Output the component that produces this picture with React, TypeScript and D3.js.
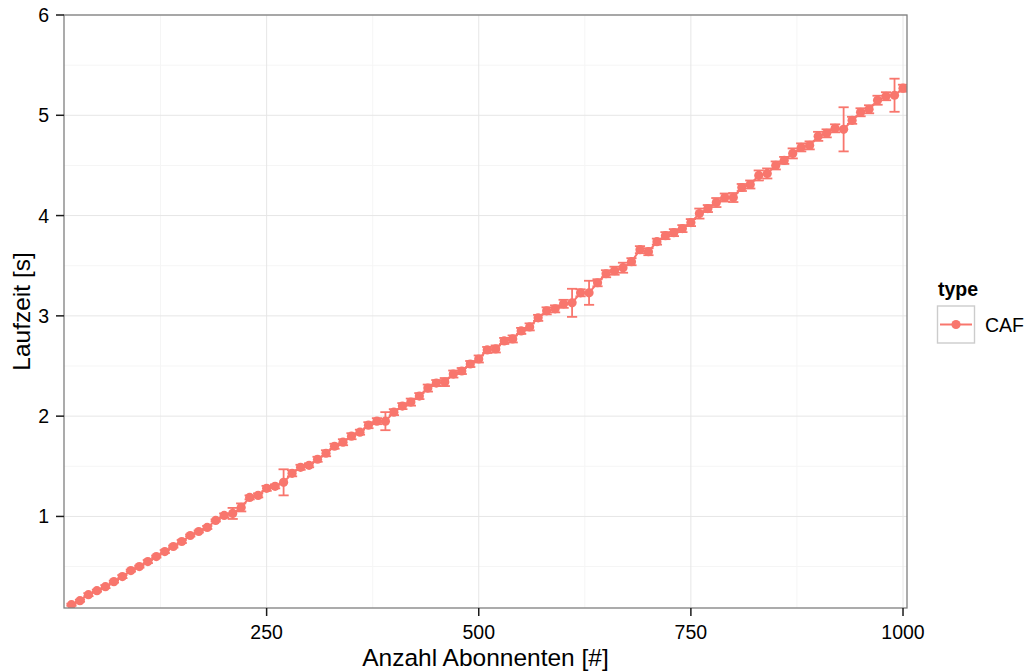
import React from "react";
import * as d3 from "d3";

const subscribers = [
  20, 30, 40, 50, 60, 70, 80, 90, 100, 110, 120, 130, 140, 150, 160, 170, 180, 190,
  200, 210, 220, 230, 240, 250, 260, 270, 280, 290, 300, 310, 320, 330, 340, 350,
  360, 370, 380, 390, 400, 410, 420, 430, 440, 450, 460, 470, 480, 490, 500, 510,
  520, 530, 540, 550, 560, 570, 580, 590, 600, 610, 620, 630, 640, 650, 660, 670,
  680, 690, 700, 710, 720, 730, 740, 750, 760, 770, 780, 790, 800, 810, 820, 830,
  840, 850, 860, 870, 880, 890, 900, 910, 920, 930, 940, 950, 960, 970, 980, 990, 1000,
];

const runtimeCAF = [
  0.12, 0.16, 0.22, 0.26, 0.30, 0.35, 0.40, 0.46, 0.50, 0.55, 0.60, 0.65, 0.70, 0.75, 0.81, 0.85, 0.89, 0.96,
  1.01, 1.03, 1.09, 1.19, 1.21, 1.28, 1.30, 1.34, 1.43, 1.49, 1.51, 1.57, 1.63, 1.70, 1.74, 1.80,
  1.84, 1.91, 1.95, 1.95, 2.04, 2.10, 2.14, 2.20, 2.28, 2.33, 2.34, 2.42, 2.45, 2.52, 2.57, 2.66,
  2.67, 2.75, 2.77, 2.85, 2.89, 2.98, 3.05, 3.07, 3.12, 3.13, 3.23, 3.23, 3.33, 3.42, 3.45, 3.48,
  3.54, 3.66, 3.64, 3.74, 3.80, 3.83, 3.87, 3.93, 4.02, 4.07, 4.13, 4.18, 4.18, 4.28, 4.31, 4.40,
  4.42, 4.50, 4.55, 4.62, 4.68, 4.70, 4.79, 4.82, 4.87, 4.86, 4.95, 5.03, 5.06, 5.15, 5.19, 5.20, 5.27,
];

const errorCAF = [
  0.01, 0.01, 0.015, 0.01, 0.015, 0.01, 0.015, 0.01, 0.01, 0.015, 0.01, 0.015, 0.01, 0.015, 0.01, 0.01, 0.015, 0.01,
  0.02, 0.055, 0.04, 0.02, 0.02, 0.025, 0.02, 0.13, 0.03, 0.025, 0.02, 0.025, 0.03, 0.025, 0.03, 0.03,
  0.025, 0.03, 0.03, 0.09, 0.03, 0.03, 0.035, 0.03, 0.035, 0.03, 0.04, 0.035, 0.03, 0.03, 0.035, 0.03,
  0.035, 0.03, 0.035, 0.03, 0.035, 0.03, 0.035, 0.035, 0.04, 0.14, 0.035, 0.12, 0.035, 0.035, 0.04, 0.05,
  0.035, 0.035, 0.035, 0.03, 0.035, 0.035, 0.035, 0.035, 0.05, 0.035, 0.045, 0.04, 0.045, 0.035, 0.04, 0.05,
  0.05, 0.04, 0.035, 0.05, 0.04, 0.04, 0.045, 0.04, 0.04, 0.22, 0.035, 0.04, 0.04, 0.045, 0.04, 0.165, 0.035,
];

const xTicks = [250, 500, 750, 1000];
const xMinor = [125, 375, 625, 875];
const yTicks = [1, 2, 3, 4, 5, 6];
const yMinor = [0.5, 1.5, 2.5, 3.5, 4.5, 5.5];

const seriesName = "CAF";
const legendTitle = "type";
const xTitle = "Anzahl Abonnenten [#]";
const yTitle = "Laufzeit [s]";

const W = 1031;
const H = 672;
const panel = { left: 64, right: 907, top: 15, bottom: 608 };
const color = "#F8766D";
const font = "'Liberation Sans', Arial, Helvetica, sans-serif";

export default function App() {
  const x = d3.scaleLinear().domain([11.2, 1004.7]).range([panel.left, panel.right]);
  const y = d3.scaleLinear().domain([0.087, 6]).range([panel.bottom, panel.top]);

  const data = subscribers.map((s, i) => ({ s, v: runtimeCAF[i], e: errorCAF[i] }));
  const line = d3
    .line<{ s: number; v: number }>()
    .x((d) => x(d.s))
    .y((d) => y(d.v));
  const capHalf = (x(12) - x(0)) / 2;

  return (
    <svg
      width={W}
      height={H}
      style={{ position: "absolute", left: 0, top: 0, background: "#fff" }}
      fontFamily={font}
    >
      <defs>
        <clipPath id="panelClip">
          <rect
            x={panel.left}
            y={panel.top}
            width={panel.right - panel.left}
            height={panel.bottom - panel.top}
          />
        </clipPath>
      </defs>
      <rect x={panel.left} y={panel.top} width={panel.right - panel.left} height={panel.bottom - panel.top} fill="#fff" />
      {xMinor.map((t) => (
        <line key={"xm" + t} x1={x(t)} x2={x(t)} y1={panel.top} y2={panel.bottom} stroke="#f5f5f5" strokeWidth={1} />
      ))}
      {yMinor.map((t) => (
        <line key={"ym" + t} x1={panel.left} x2={panel.right} y1={y(t)} y2={y(t)} stroke="#f5f5f5" strokeWidth={1} />
      ))}
      {xTicks.map((t) => (
        <line key={"xg" + t} x1={x(t)} x2={x(t)} y1={panel.top} y2={panel.bottom} stroke="#e6e6e6" strokeWidth={1} />
      ))}
      {yTicks.map((t) => (
        <line key={"yg" + t} x1={panel.left} x2={panel.right} y1={y(t)} y2={y(t)} stroke="#e6e6e6" strokeWidth={1} />
      ))}

      <g clipPath="url(#panelClip)">
        {data.map((d) => (
          <g key={"e" + d.s} stroke={color} strokeWidth={1.8}>
            <line x1={x(d.s)} x2={x(d.s)} y1={y(d.v - d.e)} y2={y(d.v + d.e)} />
            <line x1={x(d.s) - capHalf} x2={x(d.s) + capHalf} y1={y(d.v - d.e)} y2={y(d.v - d.e)} />
            <line x1={x(d.s) - capHalf} x2={x(d.s) + capHalf} y1={y(d.v + d.e)} y2={y(d.v + d.e)} />
          </g>
        ))}
        <path d={line(data) || ""} fill="none" stroke={color} strokeWidth={2} />
        {data.map((d) => (
          <circle key={"p" + d.s} cx={x(d.s)} cy={y(d.v)} r={4.6} fill={color} />
        ))}
      </g>

      <rect
        x={panel.left}
        y={panel.top}
        width={panel.right - panel.left}
        height={panel.bottom - panel.top}
        fill="none"
        stroke="#7f7f7f"
        strokeWidth={1.3}
      />

      {xTicks.map((t) => (
        <g key={"xt" + t}>
          <line x1={x(t)} x2={x(t)} y1={panel.bottom} y2={panel.bottom + 8} stroke="#1a1a1a" strokeWidth={1.5} />
          <text x={x(t)} y={639} textAnchor="middle" fontSize={19.5} fill="#000">
            {t}
          </text>
        </g>
      ))}
      {yTicks.map((t) => (
        <g key={"yt" + t}>
          <line x1={panel.left - 8} x2={panel.left} y1={y(t)} y2={y(t)} stroke="#1a1a1a" strokeWidth={1.5} />
          <text x={49} y={y(t)} dy="0.36em" textAnchor="end" fontSize={19.5} fill="#000">
            {t}
          </text>
        </g>
      ))}

      <text x={(panel.left + panel.right) / 2} y={666} textAnchor="middle" fontSize={24.5} fill="#000">
        {xTitle}
      </text>
      <text
        transform={`translate(30, ${(panel.top + panel.bottom) / 2}) rotate(-90)`}
        textAnchor="middle"
        fontSize={24.5}
        fill="#000"
      >
        {yTitle}
      </text>

      <text x={938} y={296} fontSize={19.5} fontWeight="bold" fill="#000">
        {legendTitle}
      </text>
      <rect x={937.5} y={306} width={37} height={37} fill="#fff" stroke="#cccccc" strokeWidth={1.4} />
      <line x1={940} x2={972} y1={324.5} y2={324.5} stroke={color} strokeWidth={2} />
      <circle cx={956} cy={324.5} r={4.6} fill={color} />
      <text x={985} y={324.5} dy="0.36em" fontSize={19.5} fill="#000">
        {seriesName}
      </text>
    </svg>
  );
}
